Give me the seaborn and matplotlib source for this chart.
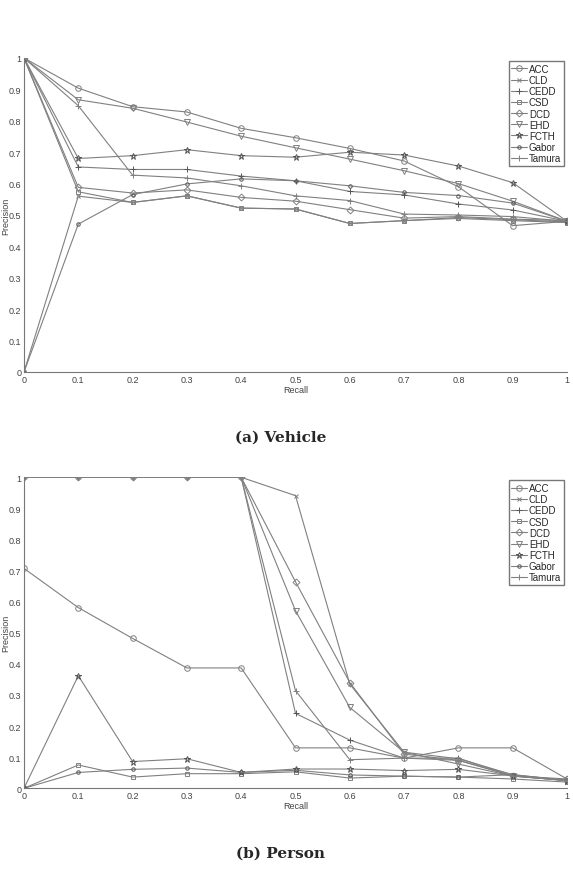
import numpy as np
import pandas as pd
import matplotlib
matplotlib.use('Agg')
import matplotlib.pyplot as plt
import seaborn as sns

sns.set_style('white')
plt.rcParams['font.family'] = ['Liberation Sans', 'DejaVu Sans']

recall = [0, 0.1, 0.2, 0.3, 0.4, 0.5, 0.6, 0.7, 0.8, 0.9, 1.0]
methods = ['ACC', 'CLD', 'CEDD', 'CSD', 'DCD', 'EHD', 'FCTH', 'Gabor', 'Tamura']
tick_labels = ['0', '0.1', '0.2', '0.3', '0.4', '0.5', '0.6', '0.7', '0.8', '0.9', '1']

# (a) Vehicle
acc_v = [1, 0.904, 0.845, 0.828, 0.776, 0.746, 0.712, 0.672, 0.590, 0.466, 0.480]
cld_v = [0, 0.560, 0.540, 0.561, 0.522, 0.519, 0.473, 0.482, 0.492, 0.485, 0.478]
cedd_v = [1, 0.653, 0.645, 0.645, 0.624, 0.609, 0.575, 0.564, 0.535, 0.516, 0.480]
csd_v = [1, 0.574, 0.540, 0.561, 0.522, 0.519, 0.473, 0.482, 0.489, 0.482, 0.476]
dcd_v = [1, 0.588, 0.570, 0.580, 0.556, 0.544, 0.517, 0.490, 0.495, 0.487, 0.482]
ehd_v = [1, 0.867, 0.840, 0.796, 0.751, 0.714, 0.678, 0.641, 0.600, 0.544, 0.480]
fcth_v = [1, 0.680, 0.689, 0.708, 0.689, 0.684, 0.700, 0.691, 0.656, 0.603, 0.480]
gabor_v = [0, 0.471, 0.565, 0.599, 0.615, 0.609, 0.593, 0.572, 0.562, 0.538, 0.480]
tamura_v = [1, 0.848, 0.627, 0.618, 0.593, 0.561, 0.546, 0.503, 0.500, 0.495, 0.480]

# (b) Person
acc_p = [0.707, 0.581, 0.482, 0.387, 0.387, 0.130, 0.130, 0.097, 0.130, 0.130, 0.030]
cld_p = [1, 1, 1, 1, 1, 0.941, 0.335, 0.116, 0.095, 0.044, 0.025]
cedd_p = [1, 1, 1, 1, 1, 0.241, 0.155, 0.097, 0.097, 0.040, 0.025]
csd_p = [0, 0.075, 0.036, 0.047, 0.047, 0.053, 0.033, 0.039, 0.036, 0.030, 0.020]
dcd_p = [1, 1, 1, 1, 1, 0.664, 0.340, 0.110, 0.090, 0.040, 0.030]
ehd_p = [1, 1, 1, 1, 1, 0.571, 0.260, 0.116, 0.078, 0.039, 0.025]
fcth_p = [0, 0.362, 0.086, 0.095, 0.051, 0.062, 0.062, 0.057, 0.061, 0.040, 0.025]
gabor_p = [0, 0.051, 0.061, 0.065, 0.051, 0.058, 0.043, 0.039, 0.036, 0.044, 0.025]
tamura_p = [1, 1, 1, 1, 1, 0.314, 0.092, 0.097, 0.090, 0.040, 0.025]

vehicle = [acc_v, cld_v, cedd_v, csd_v, dcd_v, ehd_v, fcth_v, gabor_v, tamura_v]
person = [acc_p, cld_p, cedd_p, csd_p, dcd_p, ehd_p, fcth_p, gabor_p, tamura_p]

markers = {'ACC': 'o', 'CLD': 'x', 'CEDD': '+', 'CSD': 's', 'DCD': 'D',
           'EHD': 'v', 'FCTH': '*', 'Gabor': '.', 'Tamura': '+'}
msizes = {'ACC': 4, 'CLD': 3, 'CEDD': 4, 'CSD': 3.5, 'DCD': 3.5,
          'EHD': 4, 'FCTH': 4.5, 'Gabor': 5, 'Tamura': 5}
line_col = '#808080'
dark_col = '#555555'

fig = plt.figure(figsize=(5.73, 8.7), dpi=100)


def draw_panel(rect, series, caption, cap_y):
    ax = fig.add_axes(rect)
    for name, vals in zip(methods, series):
        mcol = dark_col if name in ('FCTH', 'Gabor', 'CEDD') else line_col
        sns.lineplot(x=recall, y=vals, ax=ax, label=name, color=line_col,
                     marker=markers[name], markersize=msizes[name],
                     markeredgecolor=mcol, markerfacecolor='none',
                     markeredgewidth=0.7, linewidth=0.8)
    ax.set_xlim(0, 1)
    ax.set_ylim(0, 1)
    ax.set_xticks(recall)
    ax.set_xticklabels(tick_labels)
    ax.set_yticks(recall)
    ax.set_yticklabels(tick_labels)
    ax.tick_params(direction='in', length=3, labelsize=6.5, colors='#444444', pad=2)
    for s in ['top', 'right']:
        ax.spines[s].set_visible(False)
    for s in ['left', 'bottom']:
        ax.spines[s].set_color('#777777')
        ax.spines[s].set_linewidth(0.8)
    ax.set_xlabel('Recall', fontsize=6.5, color='#444444', labelpad=1)
    ax.set_ylabel('Precision', fontsize=6.5, color='#444444')
    ax.yaxis.set_label_coords(-0.0255, 0.5)
    handles, labels = ax.get_legend_handles_labels()
    ax.legend(handles, labels, loc='upper right', fontsize=7, frameon=True,
              fancybox=False, edgecolor='#777777', framealpha=1,
              handlelength=1.6, handletextpad=0.2, labelspacing=0.12,
              borderpad=0.3, borderaxespad=0.3)
    fig.text(0.489, cap_y, caption, ha='center', va='center',
             family='DejaVu Serif', fontweight='bold', fontsize=11)
    return ax


draw_panel([24 / 573, 1 - 373 / 870, 543 / 573, 314 / 870], vehicle,
           '(a) Vehicle', 1 - 438 / 870)
draw_panel([24 / 573, 1 - 789.3 / 870, 543 / 573, 311 / 870], person,
           '(b) Person', 1 - 854 / 870)

plt.savefig('out.png', dpi=100)
